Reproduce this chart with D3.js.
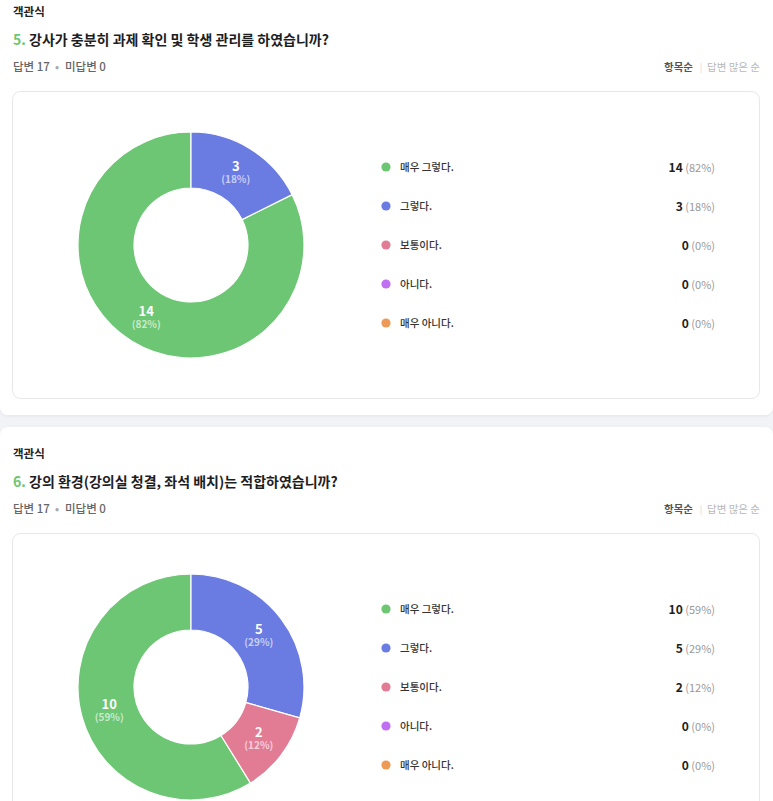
<!DOCTYPE html>
<html>
<head>
<meta charset="utf-8">
<script src="https://cdn.jsdelivr.net/npm/d3@7"></script>
<style>
	html, body { margin: 0; padding: 0; background: #f2f3f6; }
	svg { display: block; font-family: "Noto Sans CJK KR", "Noto Sans", sans-serif; }
</style>
</head>
<body>
<div class="chart"></div>
<script>
var categories = ["매우 그렇다.", "그렇다.", "보통이다.", "아니다.", "매우 아니다."];
var colors = ["#6cc673", "#6a7be2", "#e27c95", "#c06ef2", "#ec9a56"];
var q5Counts = [14, 3, 0, 0, 0];
var q6Counts = [10, 5, 2, 0, 0];
var questionNums = ["5.", "6."];
var questionTitles = ["강사가 충분히 과제 확인 및 학생 관리를 하였습니까?", "강의 환경(강의실 청결, 좌석 배치)는 적합하였습니까?"];
var answered = [17, 17];
var unanswered = [0, 0];

(function () {
	var W = 773, H = 801;
	var svg = d3.select(".chart").append("svg")
		.attr("width", W).attr("height", H);

	var defs = svg.append("defs");
	var f = defs.append("filter").attr("id", "sh").attr("x", "-5%").attr("y", "-5%").attr("width", "110%").attr("height", "110%");
	f.append("feDropShadow").attr("dx", 0).attr("dy", 1).attr("stdDeviation", 1.5)
		.attr("flood-color", "#000").attr("flood-opacity", 0.06);

	var sections = [
		{ top: -20, bottom: 415, counts: q5Counts },
		{ top: 427, bottom: 900, counts: q6Counts }
	];

	var arc = d3.arc().innerRadius(57).outerRadius(113);
	var labelArc = d3.arc().innerRadius(85).outerRadius(85);
	var legendY = d3.scalePoint().domain(categories).range([0, 156]);

	sections.forEach(function (s, i) {
		var oy = i * 442;
		var total = d3.sum(s.counts);
		var pct = function (v) { return Math.round(v / total * 100) + "%"; };

		svg.append("rect")
			.attr("x", 0).attr("y", s.top).attr("width", W).attr("height", s.bottom - s.top)
			.attr("rx", 8).attr("fill", "#fff").attr("filter", "url(#sh)");

		var g = svg.append("g").attr("transform", "translate(0," + oy + ")");

		g.append("text").attr("x", 13).attr("y", 16)
			.attr("font-size", 11.5).attr("font-weight", 700).attr("fill", "#222")
			.text("객관식");

		var t = g.append("text").attr("x", 13).attr("y", 45)
			.attr("font-size", 14).attr("font-weight", 700).attr("fill", "#1e1e1e");
		t.append("tspan").attr("fill", "#6cc673").text(questionNums[i] + " ");
		t.append("tspan").text(questionTitles[i]);

		var info = g.append("text").attr("x", 13).attr("y", 71)
			.attr("font-size", 11.5).attr("font-weight", 500).attr("fill", "#666");
		info.append("tspan").text("답변 " + answered[i]);
		info.append("tspan").attr("x", 55).attr("fill", "#aaa").text("•");
		info.append("tspan").attr("x", 65).text("미답변 " + unanswered[i]);

		g.append("text").attr("x", 693).attr("y", 71).attr("text-anchor", "end")
			.attr("font-size", 10.5).attr("font-weight", 700).attr("fill", "#555").text("항목순");
		g.append("text").attr("x", 701).attr("y", 70.5).attr("text-anchor", "middle")
			.attr("font-size", 9).attr("fill", "#d5d5d5").text("|");
		g.append("text").attr("x", 760).attr("y", 71).attr("text-anchor", "end")
			.attr("font-size", 10.5).attr("fill", "#b8b8b8").text("답변 많은 순");

		g.append("rect")
			.attr("x", 12.5).attr("y", 91.5).attr("width", 747).attr("height", 307)
			.attr("rx", 8).attr("fill", "#fff").attr("stroke", "#e6e7ea");

		// donut: first category drawn last, running clockwise up to 12 o'clock
		var shift = s.counts[0] / total * 2 * Math.PI;
		var pie = d3.pie().sort(null).value(function (d) { return d; })
			.startAngle(-shift).endAngle(2 * Math.PI - shift);
		var donut = g.append("g").attr("transform", "translate(191,245)");
		var arcs = pie(s.counts).filter(function (d) { return d.data > 0; });

		donut.selectAll("path").data(arcs).enter().append("path")
			.attr("d", arc)
			.attr("fill", function (d) { return colors[d.index]; })
			.attr("stroke", "#fff").attr("stroke-width", 1.2);

		var lab = donut.selectAll("g.lab").data(arcs).enter().append("g")
			.attr("class", "lab")
			.attr("transform", function (d) { return "translate(" + labelArc.centroid(d) + ")"; });
		lab.append("text").attr("y", -1.5).attr("text-anchor", "middle")
			.attr("font-size", 13).attr("font-weight", 700).attr("fill", "#fff")
			.text(function (d) { return d.data; });
		lab.append("text").attr("y", 10.5).attr("text-anchor", "middle")
			.attr("font-size", 10).attr("font-weight", 700).attr("fill", "#fff").attr("fill-opacity", 0.65)
			.text(function (d) { return "(" + pct(d.data) + ")"; });

		// legend
		var leg = g.append("g").attr("transform", "translate(0,167)");
		var row = leg.selectAll("g").data(categories).enter().append("g")
			.attr("transform", function (d) { return "translate(0," + legendY(d) + ")"; });
		row.append("circle").attr("cx", 386).attr("r", 4.6)
			.attr("fill", function (d, j) { return colors[j]; });
		row.append("text").attr("x", 400).attr("y", 4)
			.attr("font-size", 10.5).attr("font-weight", 500).attr("fill", "#333")
			.text(function (d) { return d; });
		var val = row.append("text").attr("x", 715).attr("y", 4.5).attr("text-anchor", "end");
		val.append("tspan").attr("font-size", 12).attr("font-weight", 700).attr("fill", "#1e1e1e")
			.text(function (d, j) { return s.counts[j]; });
		val.append("tspan").attr("font-size", 11).attr("fill", "#999")
			.text(function (d, j) { return " (" + pct(s.counts[j]) + ")"; });
	});
})();
</script>
</body>
</html>
